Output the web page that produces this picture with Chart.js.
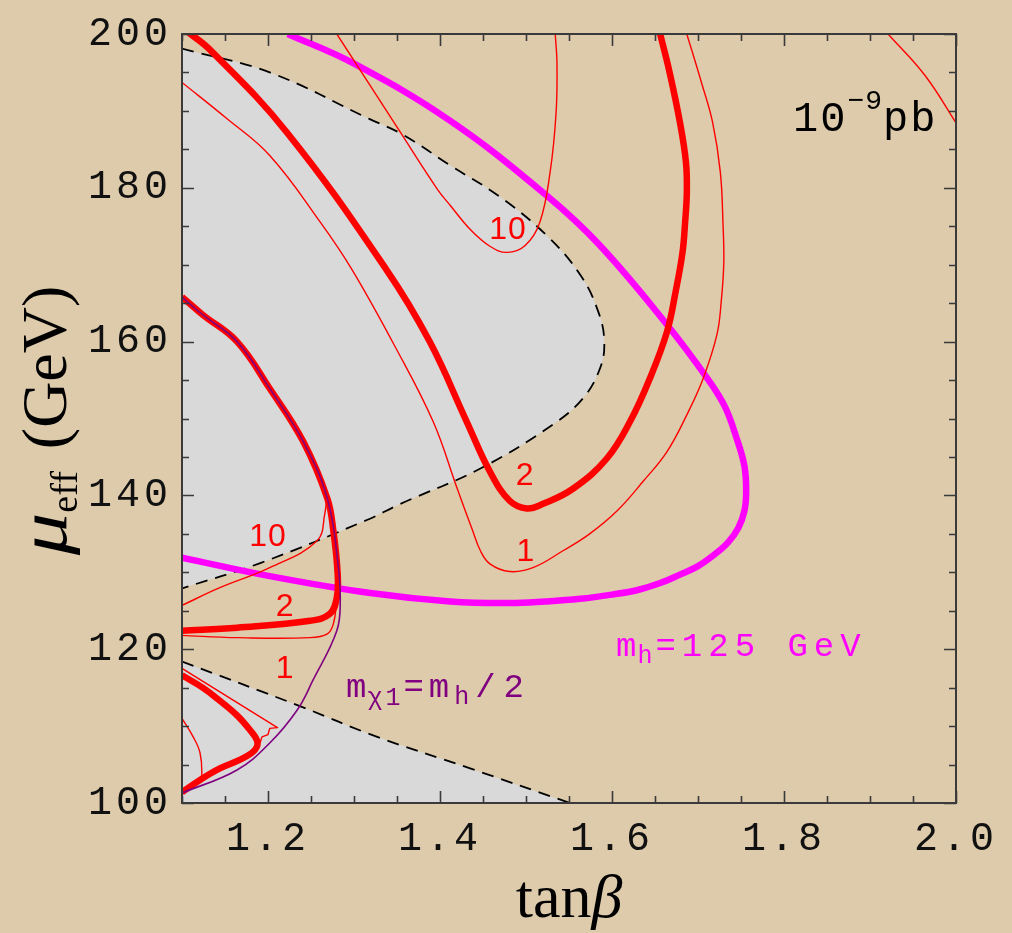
<!DOCTYPE html>
<html>
<head>
<meta charset="utf-8">
<title>Direct detection cross-section contours in the tanβ – μeff plane</title>
<script src="https://cdn.jsdelivr.net/npm/chart.js@4.4.1/dist/chart.umd.min.js"></script>
<style>
  html, body { margin: 0; padding: 0; background: #ddcbab; }
  #wrap { width: 1012px; height: 933px; position: relative; }
  canvas { display: block; }
</style>
</head>
<body>
<div id="wrap"><canvas id="plot" width="1012" height="933"></canvas></div>
<script>
// ---- axis ticks -------------------------------------------------------
const xTickValues = [1.2, 1.4, 1.6, 1.8, 2.0];
const xTickLabels = ['1.2', '1.4', '1.6', '1.8', '2.0'];
const yTickValues = [100, 120, 140, 160, 180, 200];
const yTickLabels = ['100', '120', '140', '160', '180', '200'];

// ---- curves: [tanβ, μeff (GeV)] ---------------------------------------
// boundary of the excluded (grey) region, upper lobe
const excludedUpper = [
  [1.100, 198.1], [1.202, 195.0], [1.319, 188.9], [1.357, 186.9], [1.412, 182.9],
  [1.470, 178.8], [1.524, 173.8], [1.563, 168.7], [1.584, 163.9], [1.591, 160.0],
  [1.586, 156.5], [1.566, 152.6], [1.531, 149.2], [1.447, 143.5], [1.354, 138.9],
  [1.315, 136.8], [1.191, 131.2], [1.100, 127.9]
];
// boundary of the excluded (grey) region, lower wedge
const excludedLower = [
  [1.100, 118.4], [1.237, 112.6], [1.327, 108.6], [1.435, 104.5], [1.551, 100.0]
];
// m_h = 125 GeV
const higgs125 = [
  [1.223, 200.0], [1.299, 196.2], [1.412, 188.7], [1.524, 179.0], [1.586, 172.5],
  [1.664, 162.2], [1.711, 155.2], [1.731, 151.6], [1.745, 147.4], [1.754, 143.8],
  [1.756, 140.5], [1.754, 138.0], [1.747, 135.8], [1.735, 133.9], [1.719, 132.3],
  [1.700, 130.8], [1.679, 129.7], [1.656, 128.6], [1.630, 127.7], [1.600, 127.1],
  [1.563, 126.55], [1.522, 126.2], [1.481, 126.0], [1.412, 126.2], [1.319, 127.3],
  [1.202, 129.5], [1.100, 131.9]
];
// m_χ1 = m_h / 2
const halfHiggs = [
  [1.100, 165.8], [1.124, 163.5], [1.164, 160.0], [1.202, 153.9], [1.241, 147.0],
  [1.269, 139.6], [1.281, 131.5], [1.284, 126.3], [1.280, 122.4], [1.252, 115.9],
  [1.234, 112.1], [1.202, 107.8], [1.164, 104.3], [1.100, 101.3]
];
// σ = 2 × 10^-9 pb
const sigma2Upper = [
  [1.104, 200.5], [1.133, 197.9], [1.222, 187.2], [1.338, 169.3], [1.388, 160.0],
  [1.431, 149.6], [1.458, 143.1], [1.481, 139.3], [1.501, 138.3], [1.520, 138.9],
  [1.555, 140.9], [1.594, 144.8], [1.621, 149.6], [1.644, 155.2], [1.664, 161.3],
  [1.674, 166.5], [1.682, 171.6], [1.685, 175.5], [1.687, 179.4], [1.686, 183.3],
  [1.679, 188.5], [1.667, 195.0], [1.656, 200.0]
];
const sigma2Left = [
  [1.100, 165.8], [1.124, 163.5], [1.164, 160.0], [1.202, 153.9], [1.241, 147.0],
  [1.269, 139.6], [1.276, 135.4], [1.281, 129.8], [1.280, 126.7], [1.272, 124.6],
  [1.249, 123.7], [1.164, 122.8], [1.100, 122.4]
];
const sigma2Corner = [
  [1.100, 116.6], [1.124, 115.0], [1.144, 113.3], [1.164, 111.4], [1.179, 109.5],
  [1.187, 108.2], [1.187, 107.3], [1.181, 106.5], [1.167, 105.6], [1.144, 104.5],
  [1.121, 103.0], [1.100, 101.4]
];
// σ = 1 × 10^-9 pb
const sigma1Upper = [
  [1.100, 193.7], [1.151, 189.1], [1.202, 184.2], [1.261, 175.5], [1.298, 169.3],
  [1.348, 159.3], [1.392, 149.6], [1.420, 140.9], [1.438, 135.4], [1.447, 132.8],
  [1.458, 131.1], [1.481, 130.1], [1.508, 130.6], [1.543, 132.8], [1.574, 135.0],
  [1.606, 138.0], [1.636, 141.8], [1.664, 145.7], [1.688, 150.7], [1.706, 155.2],
  [1.722, 160.9], [1.727, 165.2], [1.730, 170.3], [1.729, 175.5], [1.726, 182.0],
  [1.717, 188.5], [1.704, 193.7], [1.687, 200.0]
];
const sigma1Left = [
  [1.100, 121.8], [1.164, 121.5], [1.249, 121.5], [1.269, 122.0], [1.276, 123.3],
  [1.280, 126.3]
];
const sigma1Corner = [
  [1.100, 117.5], [1.211, 109.8], [1.202, 109.7], [1.200, 108.9], [1.193, 108.6],
  [1.191, 107.9], [1.184, 107.0]
];
const sigma1CornerInner = [
  [1.100, 111.0], [1.113, 108.6], [1.121, 106.5], [1.123, 103.6], [1.120, 102.6]
];
// σ = 10 × 10^-9 pb
const sigma10Upper = [
  [1.280, 200.0], [1.354, 187.2], [1.397, 179.8], [1.412, 177.7], [1.435, 174.6],
  [1.458, 172.4], [1.478, 171.6], [1.499, 172.5], [1.516, 175.5], [1.528, 182.0],
  [1.535, 189.8], [1.536, 196.2], [1.534, 200.0]
];
const sigma10Left = [
  [1.100, 125.7], [1.144, 128.0], [1.202, 130.6], [1.257, 134.1], [1.266, 137.6],
  [1.269, 140.5]
];
const sigma10Corner = [
  [1.921, 200.0], [1.964, 194.6], [2.002, 188.1]
];

// ---- colours -------------------------------------------------------------
const PAPER = '#ddcbab';
const EXCLUDED = '#d9d9d9';
const RED = '#ff0000';
const MAGENTA = '#ff00ff';
const PURPLE = '#800080';

const pts = arr => arr.map(([x, y]) => ({ x, y }));

function curve(data, color, width, order, extra) {
  return Object.assign({
    data: pts(data), showLine: true, borderColor: color, borderWidth: width,
    pointRadius: 0, pointHoverRadius: 0, fill: false, tension: 0.4, clip: 0,
    order: order, borderCapStyle: 'butt', borderJoinStyle: 'round'
  }, extra || {});
}

const datasets = [
  curve(halfHiggs, PURPLE, 1.6, 0),
  curve(sigma2Upper, RED, 6.5, 1),
  curve(sigma2Left, RED, 6.5, 1),
  curve(sigma2Corner, RED, 6.5, 1),
  curve(sigma1Upper, RED, 1.4, 2),
  curve(sigma1Left, RED, 1.4, 2),
  curve(sigma1Corner, RED, 1.4, 2, { tension: 0 }),
  curve(sigma1CornerInner, RED, 1.4, 2),
  curve(sigma10Upper, RED, 1.4, 2),
  curve(sigma10Left, RED, 1.4, 2),
  curve(sigma10Corner, RED, 1.4, 2),
  curve(higgs125, MAGENTA, 6.5, 3),
  curve(excludedUpper, '#000', 1.8, 4, { fill: 'shape', backgroundColor: EXCLUDED, borderDash: [12, 8] }),
  curve(excludedLower, '#000', 1.8, 4, { fill: 'start', backgroundColor: EXCLUDED, borderDash: [12, 8] })
];

// ---- text placed in data coordinates --------------------------------------
const MONO = '"Liberation Mono", "DejaVu Sans Mono", monospace';
const SANS = '"Liberation Sans", Arial, sans-serif';
const SERIF = '"Liberation Serif", "Times New Roman", serif';

const contourLabels = [
  { text: '10', t: 1.479, m: 173.3 },
  { text: '2',  t: 1.499, m: 141.4 },
  { text: '1',  t: 1.500, m: 131.5 },
  { text: '10', t: 1.200, m: 133.4 },
  { text: '2',  t: 1.220, m: 124.35 },
  { text: '1',  t: 1.220, m: 116.3 }
];

const notes = [
  { t: 1.8105, m: 187.4, color: '#000', segs: [
    { s: '10', font: '42px ' + MONO, dy: 0, ls: 2 },
    { s: '\u22129', font: '28px ' + MONO, dy: -22, ls: 1 },
    { s: 'pb', font: '42px ' + MONO, dy: 0, ls: 2 } ] },
  { t: 1.6047, m: 119.17, color: MAGENTA, segs: [
    { s: 'm', font: '34px ' + MONO, dy: 0, ls: 1 },
    { s: 'h', font: '25px ' + MONO, dy: 7, ls: 3 },
    { s: '=125 GeV', font: '34px ' + MONO, dy: 0, ls: 6 } ] },
  { t: 1.2907, m: 113.73, color: PURPLE, segs: [
    { s: 'm', font: '34px ' + MONO, dy: 0, ls: 1 },
    { s: '\u03c71', font: '25px ' + MONO, dy: 8, ls: 3 },
    { s: '=m', font: '34px ' + MONO, dy: 0, ls: 5 },
    { s: 'h', font: '25px ' + MONO, dy: 7, ls: 6 },
    { s: '/2', font: '34px ' + MONO, dy: 0, ls: 8 } ] }
];

function drawSegments(ctx, x, y, segs, align) {
  let total = 0;
  const widths = segs.map(g => {
    ctx.font = g.font; ctx.letterSpacing = (g.ls || 0) + 'px';
    const w = ctx.measureText(g.s).width * (g.sx || 1); total += w; return w;
  });
  let cx = align === 'center' ? x - total / 2 : (align === 'right' ? x - total : x);
  segs.forEach((g, i) => {
    ctx.font = g.font; ctx.letterSpacing = (g.ls || 0) + 'px';
    ctx.save();
    ctx.translate(cx, y + (g.dy || 0));
    ctx.scale(g.sx || 1, 1);
    ctx.fillText(g.s, 0, 0);
    ctx.restore();
    cx += widths[i];
  });
  ctx.letterSpacing = '0px';
}

const decorations = {
  id: 'decorations',
  beforeDraw(chart) {
    const { ctx, width, height } = chart;
    ctx.save();
    ctx.fillStyle = PAPER;
    ctx.fillRect(0, 0, width, height);
    ctx.restore();
    ctx.letterSpacing = '4px';
  },
  beforeDatasetsDraw(chart) {
    chart.ctx.letterSpacing = '0px';
  },
  afterDatasetsDraw(chart) {
    const { ctx, chartArea: a } = chart;
    const xs = chart.scales.x, ys = chart.scales.y;
    ctx.save();
    // tick marks on all four sides, pointing inwards
    ctx.strokeStyle = '#3a3a3a';
    ctx.lineWidth = 1.6;
    ctx.beginPath();
    for (let i = 0; i <= 18; i++) {
      const v = 1.1 + i * 0.05;
      const major = xTickValues.some(t => Math.abs(t - v) < 1e-6);
      const len = major ? 12 : 7;
      const px = Math.round(xs.getPixelForValue(v)) + 0.5;
      ctx.moveTo(px, a.bottom); ctx.lineTo(px, a.bottom - len);
      ctx.moveTo(px, a.top); ctx.lineTo(px, a.top + len);
    }
    for (let i = 0; i <= 20; i++) {
      const v = 100 + i * 5;
      const len = v % 20 === 0 ? 12 : 7;
      const py = Math.round(ys.getPixelForValue(v)) + 0.5;
      ctx.moveTo(a.left, py); ctx.lineTo(a.left + len, py);
      ctx.moveTo(a.right, py); ctx.lineTo(a.right - len, py);
    }
    ctx.stroke();
    ctx.lineWidth = 2;
    ctx.strokeRect(a.left, a.top, a.right - a.left, a.bottom - a.top);

    // contour values
    ctx.fillStyle = RED;
    ctx.textBaseline = 'alphabetic';
    ctx.textAlign = 'left';
    contourLabels.forEach(l => {
      drawSegments(ctx, xs.getPixelForValue(l.t), ys.getPixelForValue(l.m),
        [{ s: l.text, font: '32px ' + SANS, dy: 0, ls: 1 }], 'center');
    });
    // other annotations
    notes.forEach(n => {
      ctx.fillStyle = n.color;
      drawSegments(ctx, xs.getPixelForValue(n.t), ys.getPixelForValue(n.m), n.segs, 'left');
    });

    // axis titles
    ctx.fillStyle = '#000';
    drawSegments(ctx, (a.left + a.right) / 2, 917, [
      { s: 'tan', font: '62px ' + SERIF, dy: 0 },
      { s: '\u03b2', font: 'italic 62px ' + SERIF, dy: 0 } ], 'center');
    ctx.translate(66, (a.top + a.bottom) / 2 + 2);
    ctx.rotate(-Math.PI / 2);
    drawSegments(ctx, 0, 0, [
      { s: '\u03bc', font: 'italic 68px ' + SERIF, dy: 0, sx: 1.25 },
      { s: 'eff', font: '38px ' + SERIF, dy: 11 },
      { s: ' ', font: '64px ' + SERIF, dy: 0, ls: 6 },
      { s: '(GeV)', font: '64px ' + SERIF, dy: 0 } ], 'center');
    ctx.restore();
  }
};

new Chart(document.getElementById('plot'), {
  type: 'scatter',
  data: { datasets },
  options: {
    responsive: false,
    animation: false,
    events: [],
    layout: { padding: { top: 31, right: 56, left: 0, bottom: 0 } },
    plugins: { legend: { display: false }, tooltip: { enabled: false } },
    scales: {
      x: {
        type: 'linear', min: 1.1, max: 2.0,
        afterBuildTicks: s => { s.ticks = xTickValues.map(v => ({ value: v })); },
        afterFit: s => { s.height = 130; },
        grid: { display: false, drawTicks: false },
        border: { display: false },
        ticks: {
          autoSkip: false, maxRotation: 0, padding: 12, color: '#111',
          font: { family: MONO, size: 40 },
          callback: (v, i) => xTickLabels[i]
        }
      },
      y: {
        type: 'linear', min: 100, max: 200,
        afterBuildTicks: s => { s.ticks = yTickValues.map(v => ({ value: v })); },
        afterFit: s => { s.width = 182; },
        grid: { display: false, drawTicks: false },
        border: { display: false },
        ticks: {
          autoSkip: false, padding: 10, color: '#111',
          font: { family: MONO, size: 40 },
          callback: (v, i) => yTickLabels[i]
        }
      }
    }
  },
  plugins: [decorations]
});
</script>
</body>
</html>
